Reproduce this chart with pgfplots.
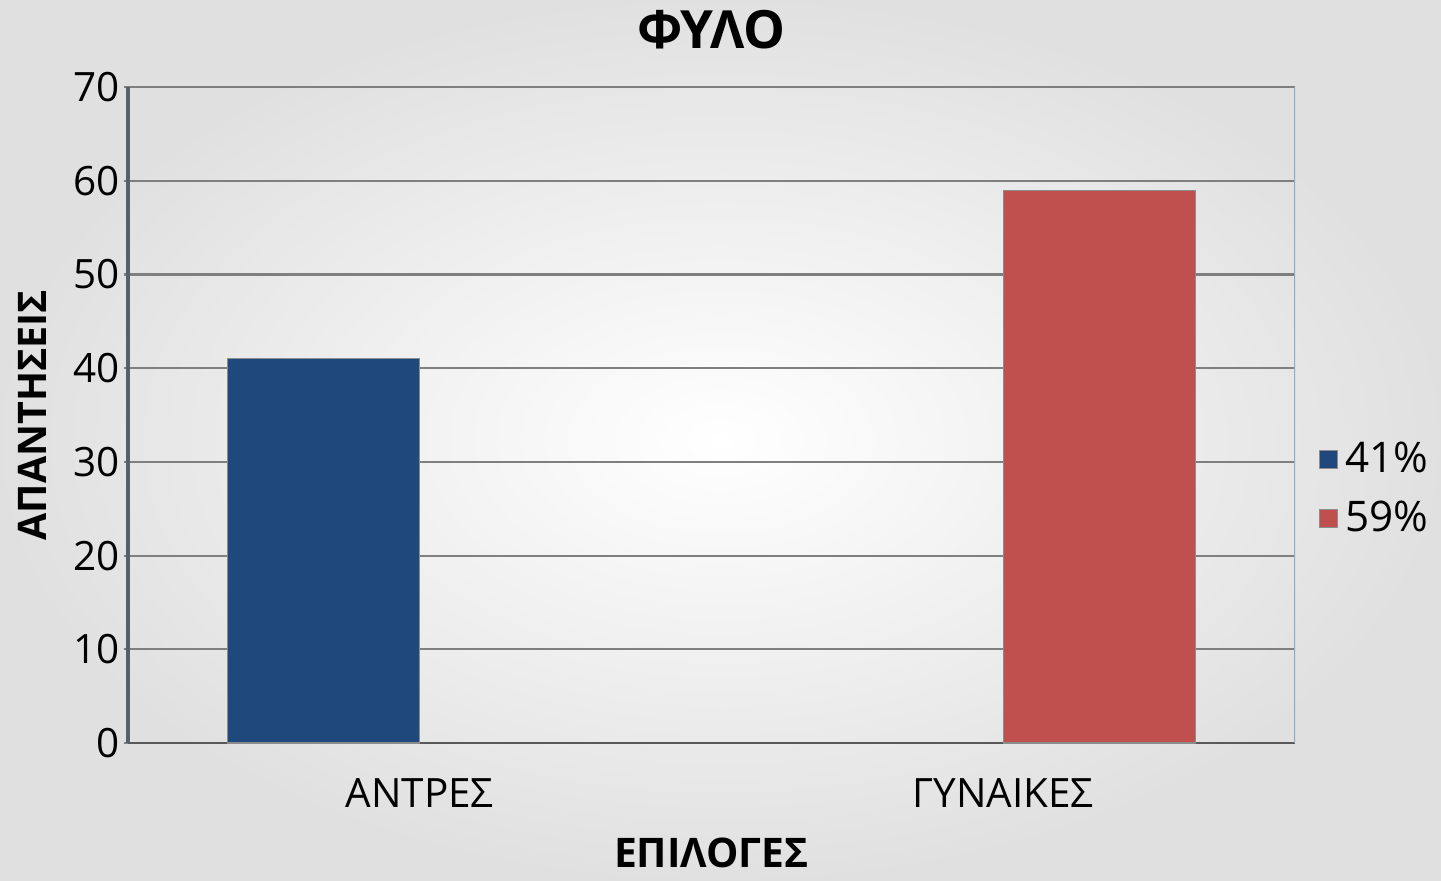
\documentclass[border=0pt]{standalone}
\usepackage{pgfplots}
\pgfplotsset{compat=1.18}
\usepackage{fontspec}
\setmainfont{Open Sans}
\definecolor{barblue}{HTML}{1F497D}
\definecolor{barred}{HTML}{C0504D}
\definecolor{gridgray}{HTML}{7F7F7F}
\definecolor{yaxiscol}{HTML}{56606B}
\definecolor{borderblue}{HTML}{8EA9C8}
\begin{document}
\begin{tikzpicture}
% page = 1441 x 880 px (0.1 mm per px)
\useasboundingbox (0cm,0cm) rectangle (14.41cm,8.8cm);
\shade[inner color=white, outer color=black!12] (0cm,0cm) rectangle (14.41cm,8.8cm);
\begin{axis}[
at={(1.28cm,1.37cm)}, anchor=south west,
scale only axis, width=11.67cm, height=6.56cm,
xmin=-0.5, xmax=1.5, ymin=0, ymax=70,
ytick={0,10,...,70},
xtick={0,1}, xticklabels={ΑΝΤΡΕΣ,ΓΥΝΑΙΚΕΣ},
x tick style={draw=none},
y tick style={draw=gridgray, line width=0.6pt},
tick align=outside, major tick length=0.8mm,
axis x line=bottom, axis y line=left,
x axis line style={-, draw=black!65, line width=0.6pt},
y axis line style={-, draw=yaxiscol, line width=0.9pt},
ymajorgrids, grid style={draw=gridgray, line width=0.6pt},
tick label style={font=\fontsize{11.5}{13}\selectfont},
/pgf/number format/assume math mode=true,
yticklabel style={xshift=0.8mm},
xticklabel style={yshift=-1.5mm},
ybar, bar width=0.33,
title={\textbf{ΦΥΛΟ}},
title style={at={(rel axis cs:0.5,1.055)}, anchor=center, font=\fontsize{15}{17}\selectfont},
xlabel={\textbf{ΕΠΙΛΟΓΕΣ}},
xlabel style={at={(rel axis cs:0.5,-0.168)}, anchor=center, font=\fontsize{11.6}{14}\selectfont},
ylabel={\textbf{ΑΠΑΝΤΗΣΕΙΣ}},
ylabel style={at={(rel axis cs:-0.0823,0.5)}, anchor=center, rotate=0, font=\fontsize{11.2}{14}\selectfont},
legend style={at={(rel axis cs:1.02,0.387)}, anchor=west, draw=none, fill=none,
  font=\fontsize{12}{14}\selectfont, row sep=0.9mm, inner sep=0pt},
legend cell align=left,
legend image code/.code={\draw[#1, draw=black!45, line width=0.3pt] (0cm,-0.09cm) rectangle (0.18cm,0.09cm);},
]
\addplot[fill=barblue, draw=black!45, line width=0.3pt, bar shift=-0.165] coordinates {(0,41)};
\addlegendentry{41\%}
\addplot[fill=barred, draw=black!45, line width=0.3pt, bar shift=0.165] coordinates {(1,59)};
\addlegendentry{59\%}
\draw[borderblue, line width=0.4pt] (rel axis cs:1,0) -- (rel axis cs:1,1);
\end{axis}
\end{tikzpicture}
\end{document}
